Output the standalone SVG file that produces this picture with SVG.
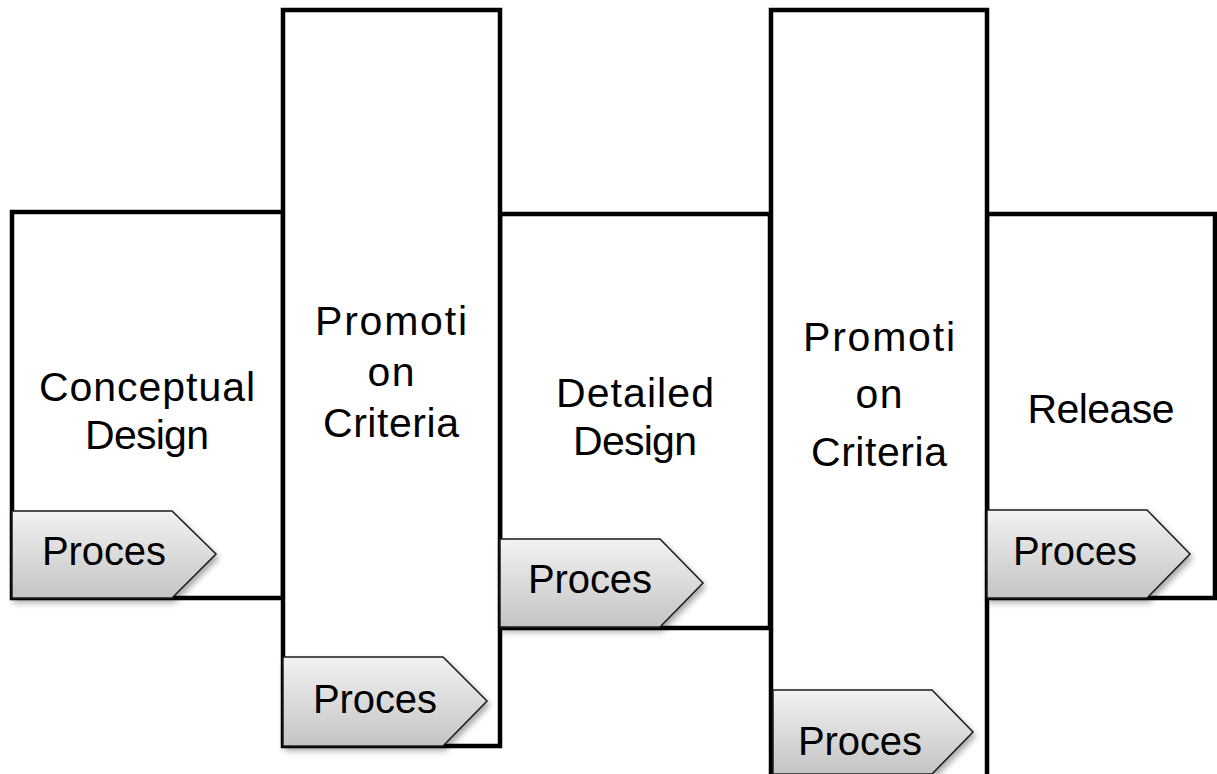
<svg xmlns="http://www.w3.org/2000/svg" width="1217" height="774" viewBox="0 0 1217 774">
<style>
.box{fill:#fff;stroke:#000;stroke-width:4.5}
.lbl{font-family:"Liberation Sans",Arial,sans-serif;font-size:41px;fill:#000;text-anchor:middle}
.arr{fill:url(#g);stroke:#1a1a1a;stroke-width:1.5;filter:url(#sh)}
.pt{font-family:"Liberation Sans",Arial,sans-serif;font-size:40px;fill:#000}
</style>
<defs>
<linearGradient id="g" x1="0" y1="0" x2="0" y2="1">
<stop offset="0" stop-color="#f2f2f2"/>
<stop offset="1" stop-color="#c4c4c4"/>
</linearGradient>
<filter id="sh" x="-10%" y="-10%" width="130%" height="140%">
<feDropShadow dx="2" dy="4" stdDeviation="3" flood-color="#000" flood-opacity="0.35"/>
</filter>
</defs>
<g id="conceptual">
<rect class="box" x="12" y="212" width="271" height="386"/>
<text class="lbl" x="147" y="401" textLength="216">Conceptual</text>
<text class="lbl" x="147" y="449" textLength="124">Design</text>
</g>
<g id="detailed">
<rect class="box" x="500" y="214" width="270" height="414"/>
<text class="lbl" x="635" y="407" textLength="158">Detailed</text>
<text class="lbl" x="635" y="455" textLength="124">Design</text>
</g>
<g id="release">
<rect class="box" x="987" y="214" width="228" height="384"/>
<text class="lbl" x="1101" y="423" textLength="147">Release</text>
</g>
<g id="promotion1">
<rect class="box" x="283" y="10" width="217" height="736"/>
<text class="lbl" x="391" y="335" textLength="152">Promoti</text>
<text class="lbl" x="391" y="386" textLength="47">on</text>
<text class="lbl" x="391" y="437" textLength="136">Criteria</text>
</g>
<g id="promotion2">
<rect class="box" x="771" y="10" width="216" height="790"/>
<text class="lbl" x="879" y="351" textLength="152">Promoti</text>
<text class="lbl" x="879" y="408" textLength="47">on</text>
<text class="lbl" x="879" y="466" textLength="136">Criteria</text>
</g>
<g id="proces1">
<path class="arr" d="M12 511 H172 L216 554 L172 598 H12 Z"/>
<text class="pt" x="42" y="565" textLength="124">Proces</text>
</g>
<g id="proces2">
<path class="arr" d="M283 657 H443 L487 701 L443 746 H283 Z"/>
<text class="pt" x="313" y="713" textLength="124">Proces</text>
</g>
<g id="proces3">
<path class="arr" d="M500 539 H660 L703 583 L660 627 H500 Z"/>
<text class="pt" x="528" y="593" textLength="124">Proces</text>
</g>
<g id="proces4">
<path class="arr" d="M773 690 H932 L973 732 L932 774 H773 Z"/>
<text class="pt" x="798" y="755" textLength="124">Proces</text>
</g>
<g id="proces5">
<path class="arr" d="M987 510 H1147 L1190 554 L1147 598 H987 Z"/>
<text class="pt" x="1013" y="565" textLength="124">Proces</text>
</g>
<g id="connectors"/>
</svg>
